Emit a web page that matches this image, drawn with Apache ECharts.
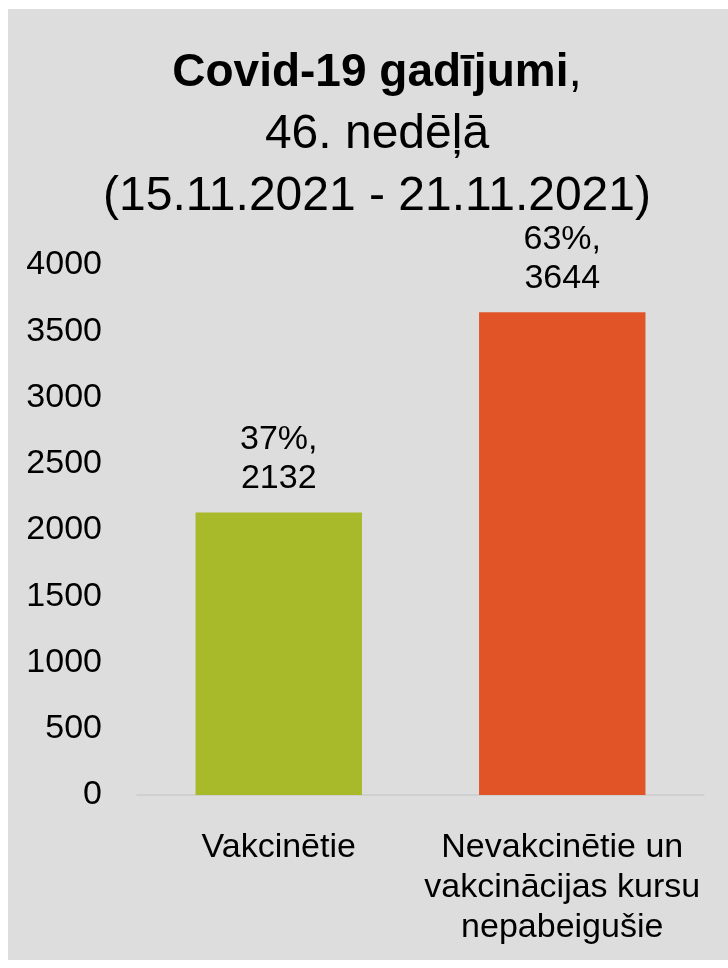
<!DOCTYPE html>
<html>
<head>
<meta charset="utf-8">
<script src="https://cdn.jsdelivr.net/npm/echarts@6/dist/echarts.min.js"></script>
<style>
  html, body { margin: 0; padding: 0; background: #ffffff; }
  #chart { width: 728px; height: 968px; }
</style>
</head>
<body>
<div id="chart"></div>
<script>
const categories = ['Vakcinētie', 'Nevakcinētie un\nvakcinācijas kursu\nnepabeigušie'];
const cases = [2132, 3644];
const shares = ['37%', '63%'];
const barColors = ['#a8b92a', '#e05428'];
const yTicks = [0, 500, 1000, 1500, 2000, 2500, 3000, 3500, 4000];

const font = '"Liberation Sans", Arial, sans-serif';

const chart = echarts.init(document.getElementById('chart'));

const option = {
  backgroundColor: '#ffffff',
  animation: false,
  graphic: [{
    type: 'rect',
    z: -10,
    silent: true,
    shape: { x: 8, y: 9, width: 720, height: 951 },
    style: { fill: '#dddddd' }
  }],
  title: {
    left: 372,
    top: 37,
    textAlign: 'center',
    text: '{b|Covid-19 gadījumi}{n|,}\n{n|46. nedēļā}\n{n|(15.11.2021 - 21.11.2021)}',
    textStyle: {
      fontWeight: 'normal',
      rich: {
        b: { fontFamily: font, fontSize: 46, fontWeight: 'bold', color: '#000', lineHeight: 62 },
        n: { fontFamily: font, fontSize: 48, fontWeight: 'normal', color: '#000', lineHeight: 62 }
      }
    }
  },
  grid: {
    left: 137,
    right: 24,
    top: 265,
    bottom: 173
  },
  xAxis: {
    type: 'category',
    data: categories,
    axisLine: { lineStyle: { color: '#cccccc', width: 1.5 } },
    axisTick: { show: false },
    axisLabel: {
      color: '#000',
      fontFamily: font,
      fontSize: 34,
      lineHeight: 40,
      margin: 33,
      interval: 0
    }
  },
  yAxis: {
    type: 'value',
    min: 0,
    max: 4000,
    interval: 500,
    splitLine: { show: false },
    axisLine: { show: false },
    axisTick: { show: false },
    axisLabel: {
      color: '#000',
      fontFamily: font,
      fontSize: 34,
      margin: 35,
      formatter: v => (yTicks.indexOf(v) >= 0 ? String(v) : '')
    }
  },
  series: [{
    type: 'bar',
    barWidth: '58.7%',
    data: cases.map((v, i) => ({ value: v, itemStyle: { color: barColors[i] } })),
    label: {
      show: true,
      position: 'top',
      distance: 14,
      color: '#000',
      fontFamily: font,
      fontSize: 34,
      lineHeight: 39,
      formatter: p => shares[p.dataIndex] + ',\n' + p.value
    }
  }]
};

chart.setOption(option);
</script>
</body>
</html>
